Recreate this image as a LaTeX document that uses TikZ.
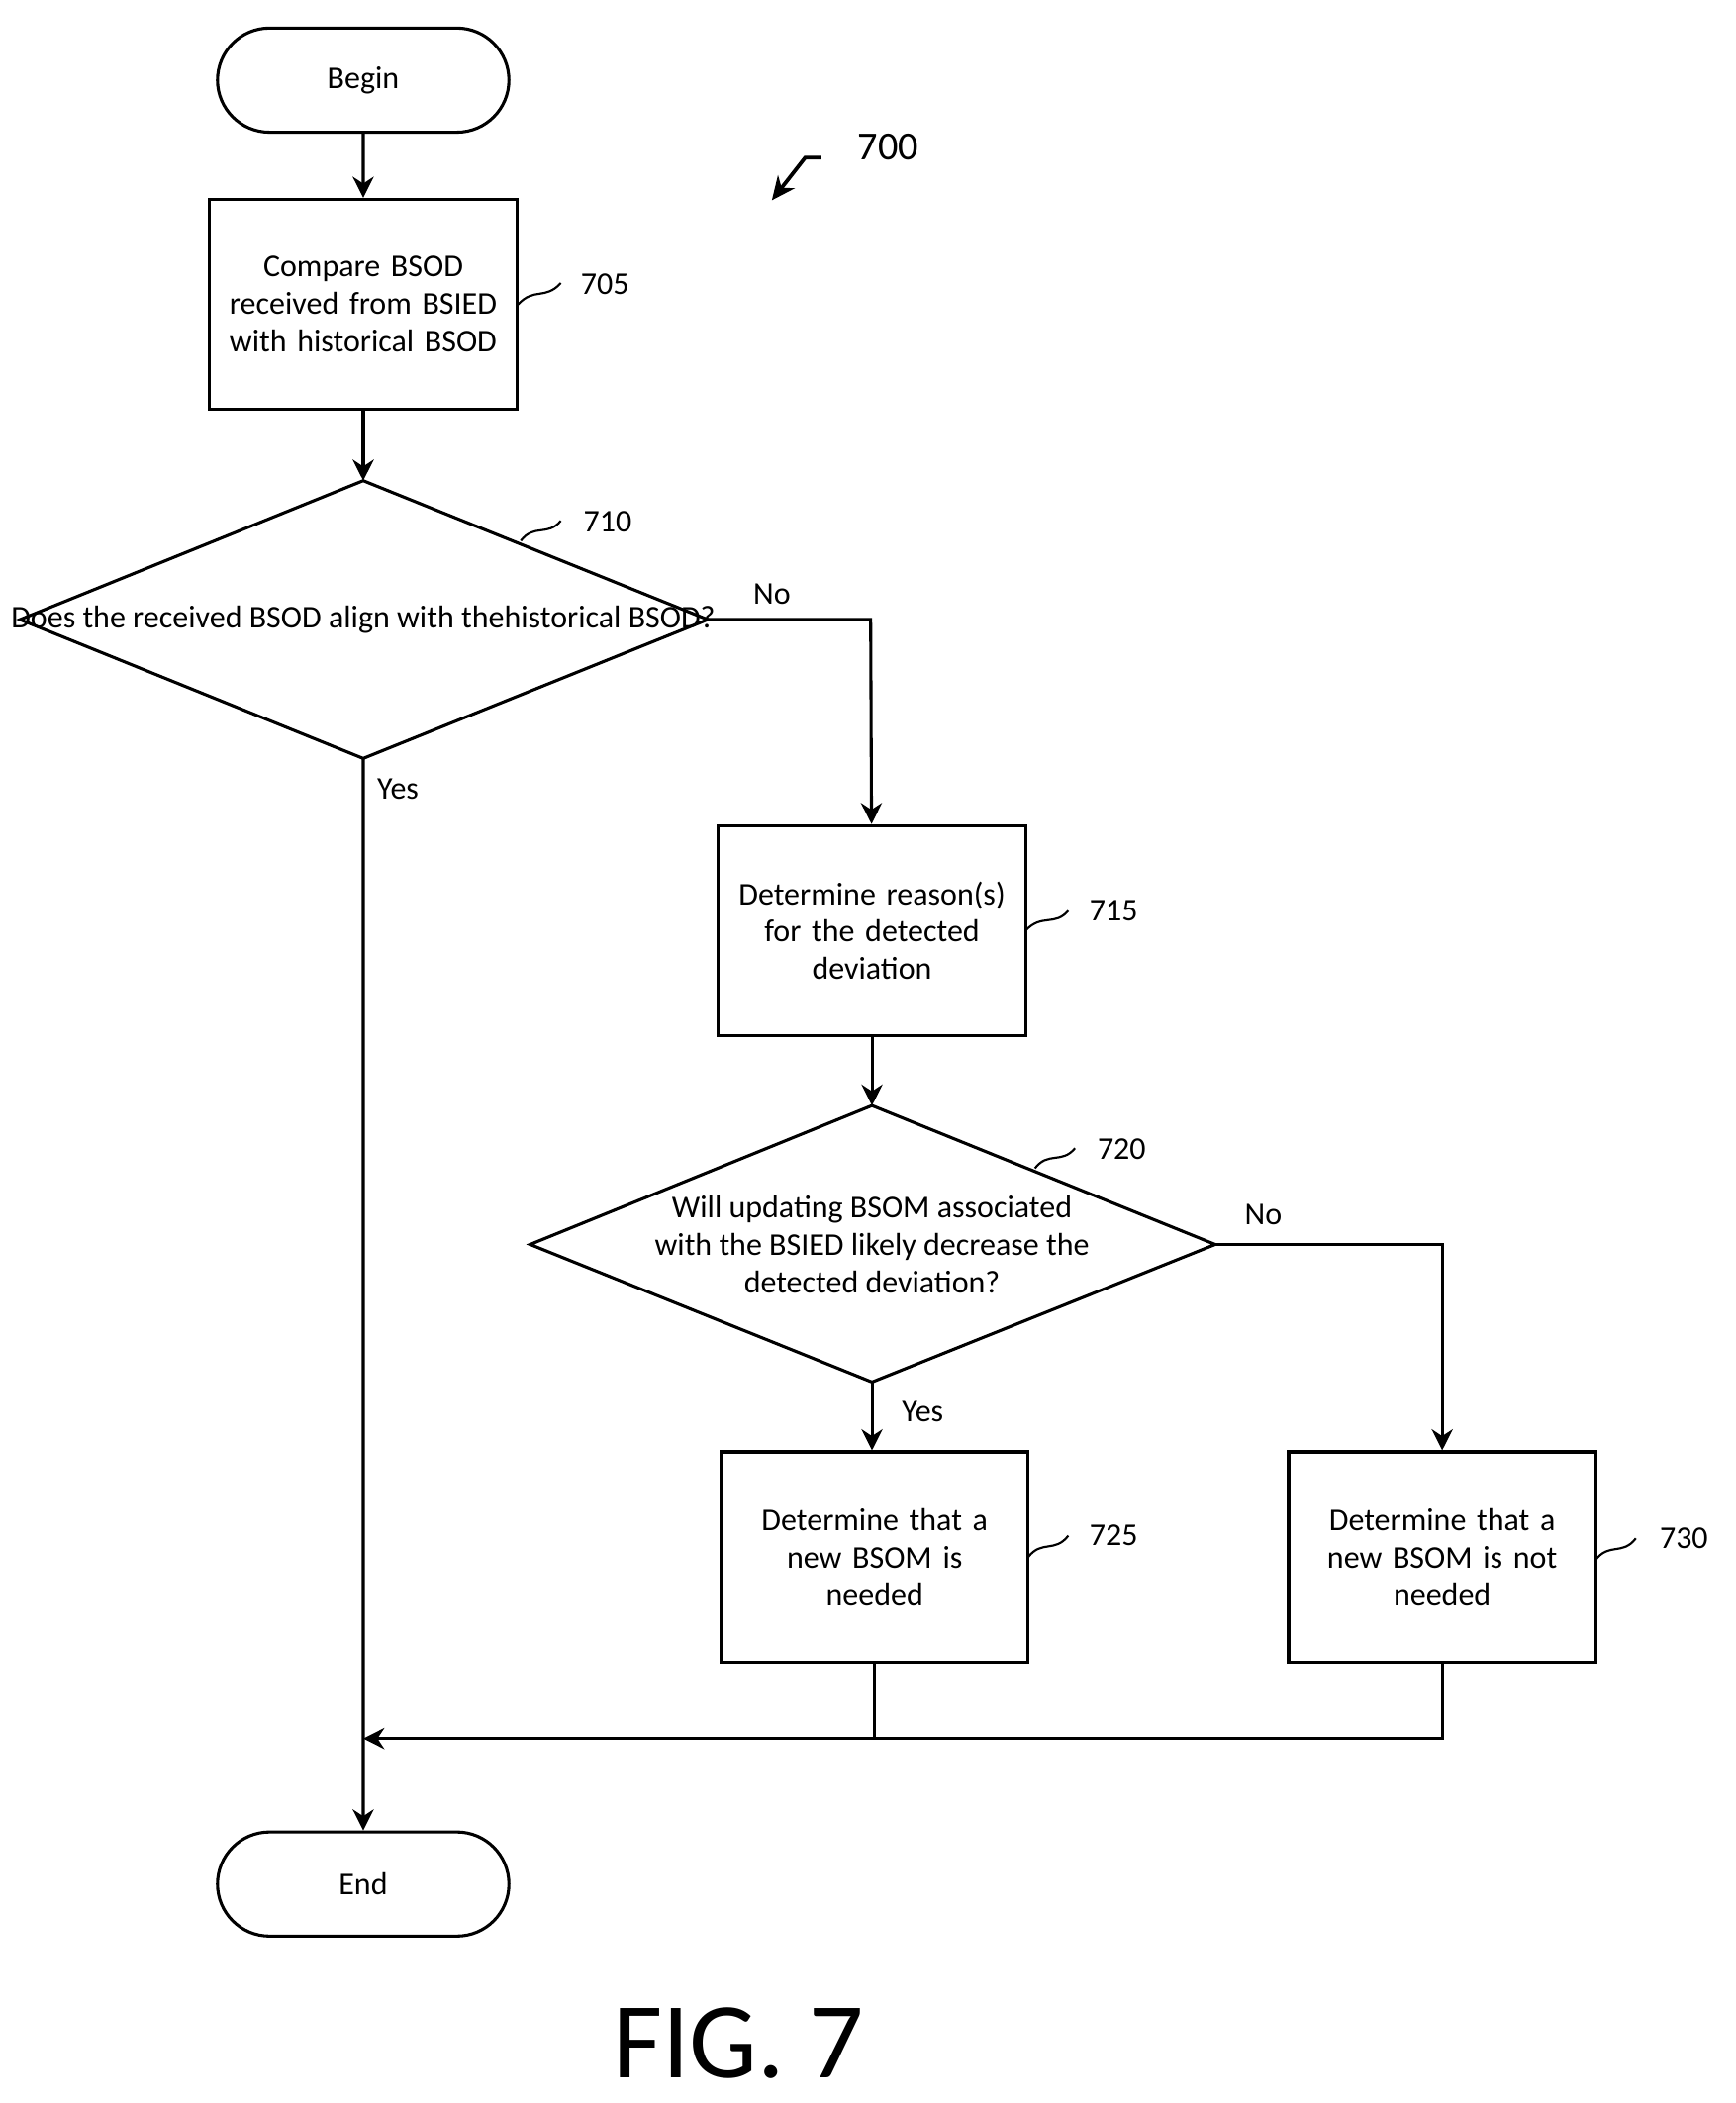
\documentclass[tikz,border=0pt]{standalone}
\usepackage{fontspec}
\setmainfont{Carlito}
\usetikzlibrary{shapes.geometric,arrows.meta}
\begin{document}
\begin{tikzpicture}[x=0.02cm,y=-0.02cm,
  every node/.style={font=\fontsize{13.5}{16}\selectfont},
  box/.style={draw,line width=1.3pt,minimum width=4.6cm,minimum height=3.15cm,align=center,text width=4.2cm},
  term/.style={draw,line width=1.3pt,rounded rectangle,minimum width=4.6cm,minimum height=1.56cm},
  dia/.style={draw,line width=1.3pt,diamond,aspect=2.48,inner sep=0pt,align=center},
  ln/.style={line width=1.3pt},
  arr/.style={ln,-{Stealth[length=9pt,width=9pt]}},
  sq/.style={line width=0.9pt}]
\useasboundingbox (0,0) rectangle (1300,1575);
\usetikzlibrary{shapes.misc}
\node[term] (begin) at (272,60) {Begin};
\node[box] (b705) at (272,228) {Compare BSOD\\received from BSIED\\with historical BSOD};
\draw[dia] (15,464) -- (272,360) -- (530,464) -- (272,568) -- cycle;
\coordinate (d710L) at (15,464); \coordinate (d710R) at (530,464);
\coordinate (d710T) at (272,360); \coordinate (d710B) at (272,568);
\node (t710) at (272,464) {Does the received BSOD align with the\\historical BSOD?};
\node[box] (b715) at (653,697) {Determine reason(s)\\for the detected\\deviation};
\draw[dia] (397,932) -- (653,828) -- (910,932) -- (653,1035) -- cycle;
\coordinate (d720R) at (910,932); \coordinate (d720T) at (653,828); \coordinate (d720B) at (653,1035);
\node[align=center] (t720) at (653,932) {Will updating BSOM associated\\with the BSIED likely decrease the\\detected deviation?};
\node[box] (b725) at (655,1166) {Determine that a\\new BSOM is\\needed};
\node[box] (b730) at (1080,1166) {Determine that a\\new BSOM is not\\needed};
\node[term] (end) at (272,1411) {End};
\coordinate (m) at (272,1302);
\coordinate (c1) at (652,464); \coordinate (c2) at (1080,932);
\coordinate (j725) at (655,1302); \coordinate (j730) at (1080,1302);

\draw[arr] (begin) -- (b705);
\draw[arr] (b705) -- (d710T);
\draw[arr] (d710R) -- (c1) -- (b715);
\draw[arr] (d710B) -- (end);
\draw[arr] (b715) -- (d720T);
\draw[arr] (d720B) -- (b725.north -| d720B);
\draw[arr] (d720R) -- (c2) -- (b730);
\draw[ln] (b725.south -| j725) -- (j725);
\draw[arr] (b730) -- (j730) -- (m);

\node (no1) at (578,445) {No};
\node (yes1) at (298,591) {Yes};
\node (no2) at (946,910) {No};
\node (yes2) at (691,1057) {Yes};

\draw[sq] (388,228) .. controls (400,215) and (408,225) .. (420,212);
\node (l705) at (453,213) {705};
\draw[sq] (390,405) .. controls (400,392) and (410,402) .. (420,390);
\node (l710) at (455,391) {710};
\draw[sq] (768,697) .. controls (780,684) and (790,694) .. (800,682);
\node (l715) at (834,682) {715};
\draw[sq] (775,875) .. controls (785,862) and (795,872) .. (805,860);
\node (l720) at (840,861) {720};
\draw[sq] (770,1166) .. controls (780,1153) and (790,1163) .. (800,1150);
\node (l725) at (834,1150) {725};
\draw[sq] (1195,1168) .. controls (1205,1155) and (1215,1165) .. (1225,1152);
\node (l730) at (1261,1152) {730};
\node[font=\fontsize{17}{20}\selectfont] (l700) at (665,110) {700};
\coordinate (a700s) at (615,118); \coordinate (a700e) at (578,150);
\draw[line width=1.6pt,-{Stealth[length=10pt,width=9pt]}] (a700s) -- (603,118) -- (a700e);
\node[font=\fontsize{46}{50}\selectfont] (fig) at (553,1530) {FIG. 7};
\end{tikzpicture}
\end{document}
